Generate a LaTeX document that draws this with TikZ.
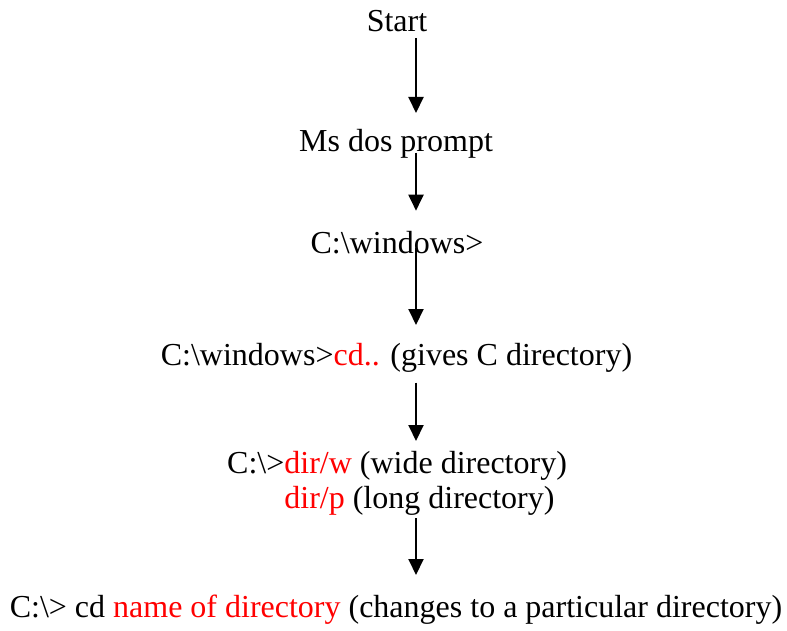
\documentclass[tikz,border=0pt]{standalone}
\usepackage{fontspec}
\setmainfont{Liberation Serif}
\usetikzlibrary{arrows.meta,calc}
\begin{document}
\begin{tikzpicture}[x=1pt,y=-1pt,
  lbl/.style={inner sep=0pt, anchor=base, font=\fontsize{32}{36}\selectfont},
  lblw/.style={lbl, anchor=base west},
  arr/.style={line width=2pt, -{Triangle[width=15pt,length=16pt]}}]
\useasboundingbox (0,0) rectangle (787,631);
\coordinate (ax) at (416,0);
\node[lbl] (start) at (397,31.7) {Start};
\node[lbl] (ms) at (396,152) {Ms dos prompt};
\node[lbl] (win) at (397,253) {C:\textbackslash windows>};
\node[lbl] (cd) at (396.5,365) {C:\textbackslash windows>\textcolor{red}{cd..} (gives C directory)};
\node[lblw] (dirw) at (227,473.3) {C:\textbackslash>\textcolor{red}{dir/w} (wide directory)};
\node[lblw] (dirp) at (227,508) {\phantom{C:\textbackslash>}\textcolor{red}{dir/p} (long directory)};
\node[lbl] (last) at (396,617.5) {C:\textbackslash> cd \textcolor{red}{name of directory} (changes to a particular directory)};
\draw[arr] ($(start.base -| ax)+(0,6.3)$) -- ($(ms.base -| ax)+(0,-39)$);
\draw[arr] ($(ms.base -| ax)+(0,0.7)$) -- ($(win.base -| ax)+(0,-42.3)$);
\draw[arr] ($(win.base -| ax)+(0,-5)$) -- ($(cd.base -| ax)+(0,-40)$);
\draw[arr] ($(cd.base -| ax)+(0,17.7)$) -- ($(dirw.base -| ax)+(0,-32.3)$);
\draw[arr] ($(dirp.base -| ax)+(0,10)$) -- ($(last.base -| ax)+(0,-42.5)$);
\end{tikzpicture}
\end{document}
